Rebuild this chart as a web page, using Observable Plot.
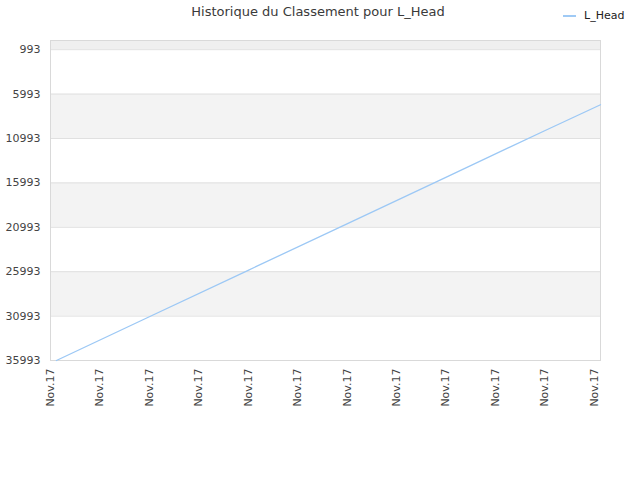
<!DOCTYPE html>
<html>
<head>
<meta charset="utf-8">
<script src="https://cdn.jsdelivr.net/npm/d3@7"></script>
<script src="https://cdn.jsdelivr.net/npm/@observablehq/plot@0.6"></script>
<style>
  body { margin: 0; background: #fff; font-family: "DejaVu Sans", sans-serif; }
  #wrap { position: relative; width: 640px; height: 480px; }
  #title { position: absolute; top: 4px; left: 0; width: 636px; text-align: center; font-size: 13px; color: #3a3a3a; }
  #legend { position: absolute; top: 9px; left: 563px; font-size: 11px; color: #222; display: flex; align-items: center; }
  #legend span.sw { display: inline-block; width: 13px; height: 2px; background: #9fcaf5; margin-right: 8px; }
</style>
</head>
<body>
<div id="wrap">
  <div id="title">Historique du Classement pour L_Head</div>
  <div id="legend"><span class="sw"></span><span>L_Head</span></div>
</div>
<script>
// Data
const seriesName = "L_Head";
const xIndex = [0.12, 2, 4, 6, 8, 10, 11.13];
const rankValues = [35993, 31070, 25835, 20600, 15363, 10125, 7198];
const xTickPositions = [0, 1, 2, 3, 4, 5, 6, 7, 8, 9, 10, 11];
const xTickLabels = ["Nov.17", "Nov.17", "Nov.17", "Nov.17", "Nov.17", "Nov.17", "Nov.17", "Nov.17", "Nov.17", "Nov.17", "Nov.17", "Nov.17"];
const yTicks = [993, 5993, 10993, 15993, 20993, 25993, 30993, 35993];
const yDomain = [-40, 35993];
const xDomain = [0, 11.13];
const bandStarts = [-40, 5993, 15993, 25993];
const bandEnds = [993, 10993, 20993, 30993];
const bandFills = ["#efefef", "#f3f3f3", "#f3f3f3", "#f3f3f3"];

const data = xIndex.map((x, i) => ({x, rank: rankValues[i], name: seriesName}));
const bands = bandStarts.map((s, i) => ({y1: s, y2: bandEnds[i], x1: xDomain[0], x2: xDomain[1], fill: bandFills[i]}));

const chart = Plot.plot({
  width: 640,
  height: 480,
  marginTop: 40,
  marginBottom: 120,
  marginLeft: 50,
  marginRight: 40,
  style: { fontFamily: "DejaVu Sans, sans-serif", fontSize: "11px", color: "#444", background: "transparent" },
  x: { domain: xDomain, ticks: xTickPositions, tickFormat: (d, i) => xTickLabels[i], tickSize: 0, tickPadding: 8, tickRotate: -90, label: null },
  y: { domain: yDomain, reverse: true, ticks: yTicks, tickFormat: d => String(d), tickSize: 0, tickPadding: 10, label: null },
  marks: [
    Plot.rect(bands, {x1: "x1", x2: "x2", y1: "y1", y2: "y2", fill: d => d.fill}),
    Plot.gridY(yTicks, {stroke: "#e0e0e0", strokeOpacity: 1}),
    Plot.frame({stroke: "#d9d9d9"}),
    Plot.line(data, {x: "x", y: "rank", stroke: "#9cc8f5", strokeWidth: 1.3})
  ]
});
document.getElementById("wrap").prepend(chart);
chart.style.position = "absolute";
chart.style.left = "0";
chart.style.top = "0";
</script>
</body>
</html>
